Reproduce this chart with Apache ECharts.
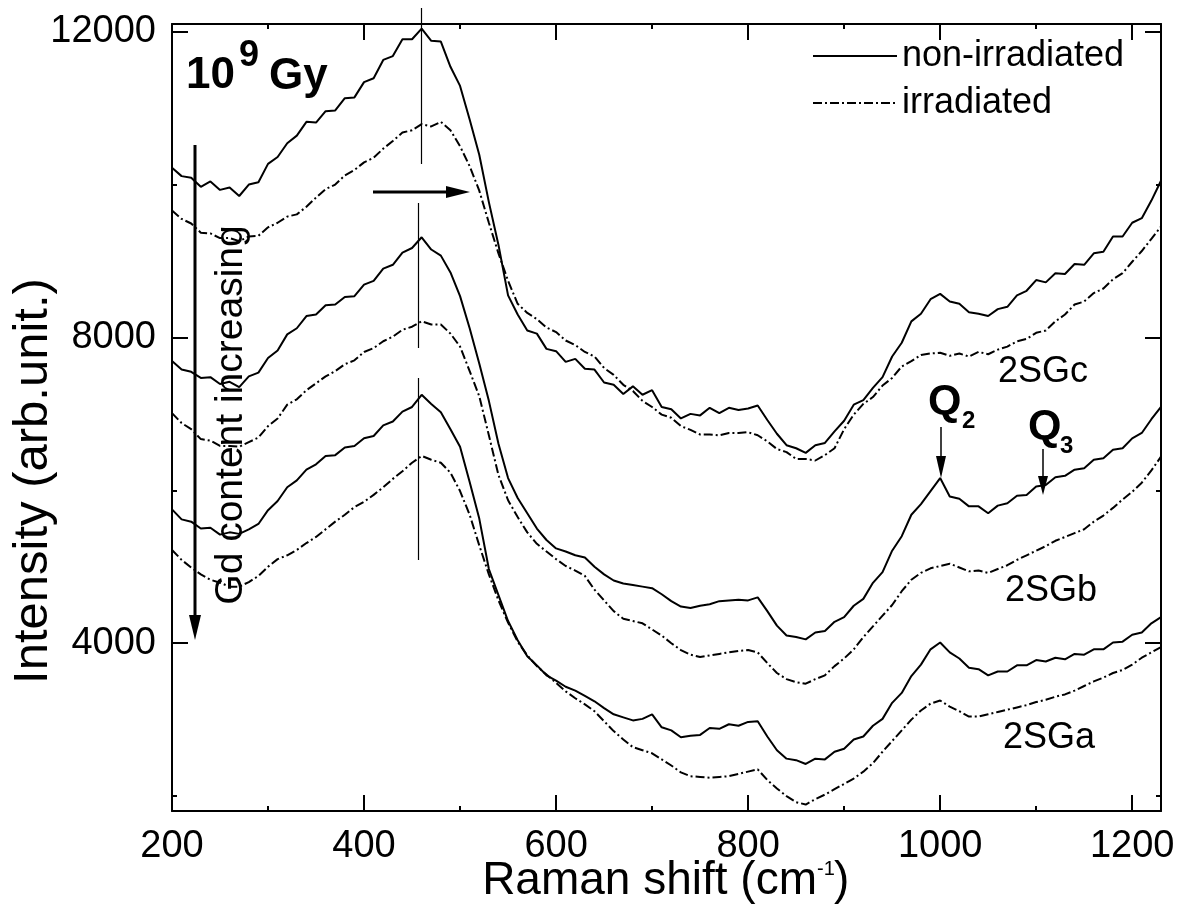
<!DOCTYPE html>
<html style="height: 100%">
    <head>
        <meta charset="utf-8">
        <script type="text/javascript" src="https://cdn.jsdelivr.net/npm/echarts@6/dist/echarts.min.js"></script>
    </head>
    <body style="height: 100%; margin: 0; background: #fff">
        <div id="container" style="width: 1186px; height: 910px"></div>
    </body>
<script>

// Raman shift sampling (cm-1)
var ramanShift = [200, 210, 220, 230, 240, 250, 260, 270, 280, 290,
    300, 310, 320, 330, 340, 350, 360, 370, 380, 390,
    400, 410, 420, 430, 440, 450, 460, 470, 480, 490,
    500, 510, 520, 530, 540, 550, 560, 570, 580, 590,
    600, 610, 620, 630, 640, 650, 660, 670, 680, 690,
    700, 710, 720, 730, 740, 750, 760, 770, 780, 790,
    800, 810, 820, 830, 840, 850, 860, 870, 880, 890,
    900, 910, 920, 930, 940, 950, 960, 970, 980, 990,
    1000, 1010, 1020, 1030, 1040, 1050, 1060, 1070, 1080, 1090,
    1100, 1110, 1120, 1130, 1140, 1150, 1160, 1170, 1180, 1190,
    1200, 1210, 1220, 1230];

// 2SGc
var sgcNon = [10220, 10110, 10090, 9970, 10040, 9930, 9960, 9850, 10000, 10030,
    10270, 10360, 10540, 10640, 10820, 10810, 10960, 10970, 11130, 11140,
    11340, 11390, 11630, 11680, 11900, 11900, 12040, 11880, 11870, 11540,
    11290, 10850, 10390, 9770, 9210, 8550, 8300, 8090, 8050, 7850,
    7820, 7680, 7720, 7590, 7580, 7410, 7380, 7260, 7360, 7250,
    7310, 7090, 7060, 6940, 7000, 6980, 7080, 7010, 7080, 7050,
    7070, 7110, 6920, 6740, 6590, 6550, 6490, 6590, 6620, 6770,
    6910, 7120, 7180, 7340, 7480, 7750, 7930, 8210, 8310, 8500,
    8570, 8470, 8440, 8330, 8310, 8280, 8370, 8400, 8550, 8610,
    8750, 8720, 8840, 8830, 8960, 8950, 9100, 9120, 9320, 9320,
    9500, 9560, 9790, 10050];
var sgcIrr = [9660, 9550, 9490, 9370, 9360, 9300, 9300, 9260, 9320, 9330,
    9440, 9500, 9580, 9610, 9710, 9830, 9940, 10000, 10120, 10190,
    10290, 10350, 10470, 10570, 10680, 10710, 10790, 10760, 10820, 10710,
    10500, 10240, 9920, 9500, 9100, 8740, 8440, 8320, 8240, 8130,
    8070, 7960, 7900, 7810, 7750, 7600, 7510, 7380, 7300, 7170,
    7090, 6990, 6950, 6840, 6790, 6730, 6730, 6720, 6750, 6750,
    6760, 6720, 6640, 6540, 6500, 6410, 6410, 6390, 6460, 6550,
    6800, 6990, 7130, 7220, 7370, 7470, 7620, 7690, 7770, 7790,
    7800, 7760, 7790, 7750, 7810, 7780, 7840, 7880, 7950, 7980,
    8060, 8090, 8210, 8300, 8430, 8470, 8580, 8640, 8760, 8840,
    8990, 9130, 9290, 9450];

// 2SGb
var sgbNon = [7690, 7580, 7550, 7470, 7480, 7390, 7420, 7350, 7490, 7540,
    7730, 7830, 8040, 8120, 8280, 8300, 8420, 8430, 8530, 8540,
    8690, 8740, 8900, 8950, 9110, 9170, 9310, 9150, 9070, 8850,
    8540, 8120, 7660, 7170, 6610, 6160, 5900, 5700, 5500, 5350,
    5240, 5200, 5150, 5120, 5000, 4900, 4820, 4780, 4760, 4740,
    4720, 4640, 4550, 4480, 4460, 4490, 4510, 4550, 4560, 4570,
    4560, 4600, 4420, 4230, 4100, 4080, 4050, 4140, 4160, 4280,
    4340, 4490, 4580, 4790, 4930, 5210, 5400, 5680, 5820, 5990,
    6160, 5920, 5890, 5790, 5790, 5700, 5800, 5830, 5930, 5940,
    6050, 6070, 6170, 6190, 6270, 6290, 6400, 6420, 6530, 6550,
    6680, 6750, 6930, 7090];
var sgbIrr = [7010, 6880, 6800, 6670, 6650, 6580, 6580, 6570, 6630, 6690,
    6840, 6940, 7120, 7190, 7310, 7400, 7490, 7560, 7650, 7700,
    7810, 7860, 7950, 8010, 8100, 8140, 8210, 8170, 8170, 8050,
    7880, 7560, 7230, 6720, 6200, 5870, 5650, 5450, 5300, 5200,
    5100, 5010, 4950, 4880, 4700, 4560, 4420, 4320, 4290, 4260,
    4180, 4100, 4000, 3910, 3850, 3820, 3840, 3860, 3880, 3900,
    3910, 3880, 3740, 3610, 3530, 3490, 3470, 3530, 3580, 3700,
    3800, 3920, 4080, 4220, 4360, 4500, 4680, 4830, 4920, 4980,
    5010, 5040, 4990, 4940, 4950, 4920, 4970, 5020, 5090, 5150,
    5210, 5270, 5340, 5390, 5440, 5490, 5590, 5670, 5770, 5880,
    5980, 6100, 6260, 6440];

// 2SGa
var sgaNon = [5750, 5620, 5590, 5500, 5510, 5420, 5450, 5430, 5490, 5560,
    5740, 5860, 6040, 6130, 6270, 6340, 6450, 6460, 6560, 6580,
    6680, 6710, 6850, 6900, 7030, 7090, 7250, 7130, 7020, 6800,
    6570, 6110, 5630, 4970, 4630, 4290, 4040, 3830, 3710, 3580,
    3510, 3430, 3380, 3310, 3240, 3150, 3070, 3030, 2990, 3010,
    3070, 2900, 2860, 2770, 2790, 2800, 2890, 2880, 2940, 2920,
    2970, 2980, 2780, 2600, 2490, 2470, 2420, 2490, 2480, 2580,
    2620, 2740, 2780, 2920, 3010, 3220, 3350, 3570, 3720, 3920,
    4010, 3880, 3800, 3680, 3660, 3580, 3630, 3630, 3710, 3710,
    3780, 3760, 3810, 3790, 3860, 3850, 3920, 3920, 4010, 4020,
    4110, 4140, 4260, 4340];
var sgaIrr = [5220, 5090, 4990, 4900, 4830, 4790, 4740, 4740, 4800, 4880,
    5000, 5100, 5150, 5220, 5310, 5390, 5490, 5590, 5680, 5780,
    5850, 5940, 6040, 6150, 6250, 6360, 6450, 6400, 6360, 6230,
    5990, 5680, 5280, 4900, 4560, 4270, 4020, 3840, 3700, 3590,
    3480, 3370, 3280, 3200, 3110, 2980, 2850, 2740, 2640, 2600,
    2560, 2480, 2400, 2310, 2260, 2250, 2240, 2250, 2260, 2290,
    2320, 2350, 2210, 2100, 2000, 1920, 1890, 1960, 2020, 2090,
    2160, 2230, 2320, 2430, 2580, 2720, 2860, 3000, 3120, 3210,
    3250, 3170, 3110, 3040, 3040, 3070, 3100, 3130, 3160, 3190,
    3230, 3260, 3300, 3330, 3380, 3440, 3500, 3550, 3610, 3650,
    3720, 3810, 3880, 3950];

var xMajorTicks = [200, 400, 600, 800, 1000, 1200];
var xMinorTicks = [300, 500, 700, 900, 1100];
var yMajorTicks = [4000, 8000, 12000];
var yMinorTicks = [2000, 6000, 10000];

var FONT = "'Liberation Sans', Arial, sans-serif";
var dashDot = [9, 3, 2, 3];

function pairs(ys) {
    return ramanShift.map(function (x, i) { return [x, ys[i]]; });
}

function plain(v) { return String(v); }

function xAxisDef(pos, ticks, len, showLine, showLabel) {
    return {
        type: 'value', position: pos, min: 200, max: 1230,
        axisLine: { show: showLine, onZero: false, lineStyle: { color: '#000', width: 2 } },
        axisTick: { show: true, inside: true, length: len, customValues: ticks, lineStyle: { color: '#000', width: 2 } },
        axisLabel: { show: showLabel, customValues: ticks, formatter: plain, color: '#000', fontSize: 38, fontFamily: FONT, margin: 17 },
        splitLine: { show: false }
    };
}
function yAxisDef(pos, ticks, len, showLine, showLabel) {
    return {
        type: 'value', position: pos, min: 1805, max: 12100,
        axisLine: { show: showLine, onZero: false, lineStyle: { color: '#000', width: 2 } },
        axisTick: { show: true, inside: true, length: len, customValues: ticks, lineStyle: { color: '#000', width: 2 } },
        axisLabel: { show: showLabel, customValues: ticks, formatter: plain, color: '#000', fontSize: 38, fontFamily: FONT, margin: 16 },
        splitLine: { show: false }
    };
}

function curve(name, ys, dashed) {
    return {
        name: name, type: 'line', data: pairs(ys),
        symbol: 'none', showSymbol: false, smooth: false,
        lineStyle: { color: '#000', width: 2, type: dashed ? dashDot : 'solid' },
        itemStyle: { color: '#000' },
        silent: true
    };
}

function txt(x, y, s, size, weight, rot, align) {
    return {
        type: 'text', x: x, y: y, rotation: rot || 0, z: 100,
        style: { text: s, fill: '#000', fontSize: size, fontWeight: weight || 'normal', fontFamily: FONT,
                 textAlign: align || 'left', textVerticalAlign: 'middle' }
    };
}
function seg(x1, y1, x2, y2, w) {
    return { type: 'line', z: 100, shape: { x1: x1, y1: y1, x2: x2, y2: y2 }, style: { stroke: '#000', lineWidth: w } };
}
function head(pts) {
    return { type: 'polygon', z: 100, shape: { points: pts }, style: { fill: '#000' } };
}

var dom = document.getElementById("container");
var myChart = echarts.init(dom);
var option;

option = {
    animation: false,
    backgroundColor: '#fff',
    grid: { left: 172, top: 24, width: 989, height: 787 },
    legend: {
        orient: 'vertical', left: 807, top: 31,
        itemWidth: 84, itemHeight: 14, itemGap: 7,
        data: ['non-irradiated', 'irradiated'],
        itemStyle: { opacity: 0 },
        textStyle: { color: '#000', fontSize: 36, fontFamily: FONT, lineHeight: 40 }
    },
    xAxis: [
        xAxisDef('bottom', xMajorTicks, 16, true, true),
        xAxisDef('top', xMajorTicks, 16, true, false),
        xAxisDef('bottom', xMinorTicks, 5, false, false),
        xAxisDef('top', xMinorTicks, 5, false, false)
    ],
    yAxis: [
        yAxisDef('left', yMajorTicks, 16, true, true),
        yAxisDef('right', yMajorTicks, 16, true, false),
        yAxisDef('left', yMinorTicks, 5, false, false),
        yAxisDef('right', yMinorTicks, 5, false, false)
    ],
    series: [
        curve('non-irradiated', sgcNon, false),
        curve('irradiated', sgcIrr, true),
        curve('non-irradiated', sgbNon, false),
        curve('irradiated', sgbIrr, true),
        curve('non-irradiated', sgaNon, false),
        curve('irradiated', sgaIrr, true)
    ],
    graphic: [
        // axis names
        txt(33, 481, 'Intensity (arb.unit.)', 49, 'normal', Math.PI / 2, 'center'),
        txt(817, 881, 'Raman shift (cm', 46, 'normal', 0, 'right'),
        txt(817, 869, '-1', 20),
        txt(834, 881, ')', 46),
        // dose
        txt(186, 76, '10', 44, 'bold'),
        txt(239, 56, '9', 36, 'bold'),
        txt(269, 77, 'Gy', 44, 'bold'),
        // Gd content arrow
        seg(195, 145, 195, 620, 3),
        head([[189, 615], [201, 615], [195, 640]]),
        txt(231, 415, 'Gd content increasing', 39, 'normal', Math.PI / 2, 'center'),
        // shift arrow
        seg(373, 192, 450, 192, 3),
        head([[446, 186], [446, 198], [470, 192]]),
        // peak position guides
        seg(421.5, 8, 421.5, 164, 1.2),
        seg(418.5, 203, 418.5, 348, 1.2),
        seg(418.5, 378, 418.5, 560, 1.2),
        // Q2 / Q3
        txt(928, 402, 'Q', 43, 'bold'),
        txt(962, 421, '2', 24, 'bold'),
        seg(941, 427, 941, 462, 1.5),
        head([[936, 456], [946, 456], [941, 478]]),
        txt(1028, 427, 'Q', 43, 'bold'),
        txt(1060, 446, '3', 24, 'bold'),
        seg(1043, 449, 1043, 480, 1.5),
        head([[1038, 476], [1048, 476], [1043, 495]]),
        // sample labels
        txt(998, 372, '2SGc', 36),
        txt(1005, 591, '2SGb', 36),
        txt(1003, 738, '2SGa', 36)
    ]
};

if (option && typeof option === 'object') {
    myChart.setOption(option);
}

</script>
</html>
